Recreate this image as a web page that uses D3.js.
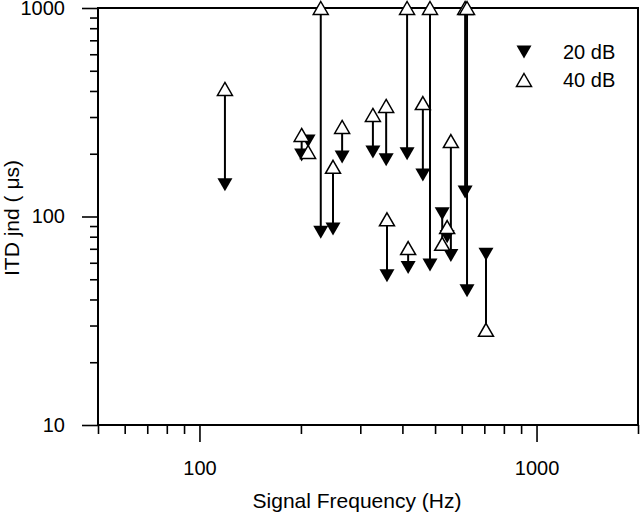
<!DOCTYPE html>
<html>
  <meta charset="utf-8">
  <style>
  body { margin: 0; background: #fff; }
  svg { font-family: "Liberation Sans", Arial, sans-serif; }
  .axis path { display: none; }
  .axis line { stroke: #000; stroke-width: 1.6px; }
  .axis text { font-size: 20px; fill: #000; }
  </style>
  <head>
    <script src="https://d3js.org/d3.v7.min.js"></script>
  </head>
  <body>
    <script>
      // signal frequency (Hz) of each pair, and the jnd at 20 dB / 40 dB (us)
      var freqs = [119, 201, 210, 229, 249, 265, 327, 358, 360, 413, 416, 460, 483, 525, 543, 557, 614, 622, 708];
      var jnd20 = [142, 197, 230, 84, 87, 193, 204, 187, 52, 200, 57, 158, 58.5, 103, 80, 65, 131, 44, 66];
      var jnd40 = [409, 246, 204, 1000, 173, 269, 307, 339, 97, 1000, 70.6, 350, 1000, 74, 89, 230, 1000, 1000, 28.6];

      var xMajor = [100, 1000],
          xMinor = [50, 60, 70, 80, 90, 200, 300, 400, 500, 600, 700, 800, 900, 2000],
          yMajor = [10, 100, 1000],
          yMinor = [20, 30, 40, 50, 60, 70, 80, 90, 200, 300, 400, 500, 600, 700, 800, 900];
      var legendLabels = ["20 dB", "40 dB"];

      var width = 640,
          height = 512,
          pLeft = 98, pRight = 638, pTop = 8, pBottom = 425;

      var x = d3.scaleLog().domain([50, 2000]).range([pLeft, pRight]);
      var y = d3.scaleLog().domain([10, 1000]).range([pBottom, pTop]);

      var svg = d3.select("body").append("svg")
          .attr("width", width)
          .attr("height", height);

      // axes
      svg.append("g").attr("class", "axis")
          .attr("transform", "translate(0," + pBottom + ")")
          .call(d3.axisBottom(x).tickValues(xMinor).tickSize(9).tickFormat(""));
      svg.append("g").attr("class", "axis")
          .attr("transform", "translate(0," + pBottom + ")")
          .call(d3.axisBottom(x).tickValues(xMajor).tickSize(17).tickPadding(19).tickFormat(d3.format("d")));
      svg.append("g").attr("class", "axis")
          .attr("transform", "translate(" + pLeft + ",0)")
          .call(d3.axisLeft(y).tickValues(yMinor).tickSize(8).tickFormat(""));
      svg.append("g").attr("class", "axis")
          .attr("transform", "translate(" + pLeft + ",0)")
          .call(d3.axisLeft(y).tickValues(yMajor).tickSize(16).tickPadding(17).tickFormat(d3.format("d")));

      svg.append("rect")
          .attr("x", pLeft).attr("y", pTop)
          .attr("width", pRight - pLeft).attr("height", pBottom - pTop)
          .attr("fill", "none").attr("stroke", "#000").attr("stroke-width", 2);

      svg.append("text")
          .attr("x", 357).attr("y", 508)
          .attr("text-anchor", "middle")
          .style("font-size", "21px")
          .text("Signal Frequency (Hz)");

      svg.append("text")
          .attr("transform", "translate(19,218) rotate(-90)")
          .attr("text-anchor", "middle")
          .style("font-size", "21px")
          .text("ITD jnd ( \u03bcs)");

      // markers
      var down = "M-7.5,-6.5L7.5,-6.5L0,6.5Z",
          up = "M0,-6.5L7.5,6.5L-7.5,6.5Z";

      var pairs = freqs.map(function(f, i) { return {f: f, a: jnd20[i], b: jnd40[i]}; });

      svg.append("g").selectAll("line")
          .data(pairs)
          .enter().append("line")
          .attr("x1", function(d) { return x(d.f); })
          .attr("x2", function(d) { return x(d.f); })
          .attr("y1", function(d) { return y(d.a); })
          .attr("y2", function(d) { return y(d.b); })
          .attr("stroke", "#000").attr("stroke-width", 2);

      svg.append("g").selectAll("path")
          .data(pairs)
          .enter().append("path")
          .attr("d", down)
          .attr("transform", function(d) { return "translate(" + x(d.f) + "," + y(d.a) + ")"; })
          .attr("fill", "#000");

      svg.append("g").selectAll("path")
          .data(pairs)
          .enter().append("path")
          .attr("d", up)
          .attr("transform", function(d) { return "translate(" + x(d.f) + "," + y(d.b) + ")"; })
          .attr("fill", "#fff").attr("stroke", "#000").attr("stroke-width", 1.5);

      // legend
      var legend = svg.append("g");
      legend.append("path").attr("d", down).attr("transform", "translate(524,52)").attr("fill", "#000");
      legend.append("path").attr("d", up).attr("transform", "translate(524,80)")
          .attr("fill", "#fff").attr("stroke", "#000").attr("stroke-width", 1.5);
      legend.selectAll("text")
          .data(legendLabels)
          .enter().append("text")
          .attr("x", 563)
          .attr("y", function(d, i) { return 52 + i * 28; })
          .attr("dy", "0.35em")
          .style("font-size", "20px")
          .text(function(d) { return d; });
    </script>
  </body>
</html>
